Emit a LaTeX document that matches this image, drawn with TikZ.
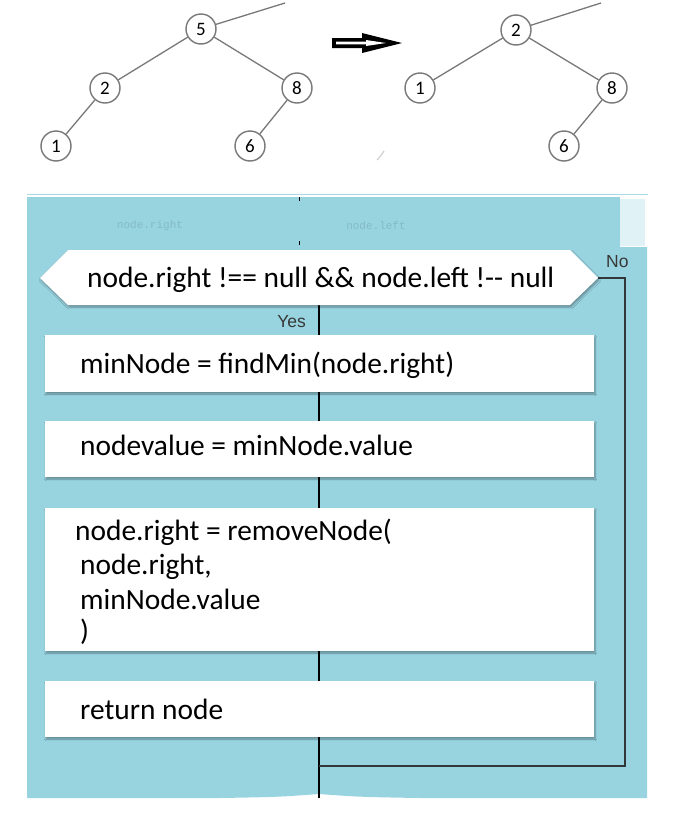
\documentclass[tikz,border=0pt]{standalone}
\usepackage{fontspec}
\setmainfont{Carlito}
\newfontfamily\labelfont{Liberation Sans}
\newfontfamily\ghostfont{Liberation Mono}
\usetikzlibrary{shadows.blur}
\definecolor{panelblue}{RGB}{152,211,224}
\definecolor{edgegray}{RGB}{120,120,120}
\definecolor{flowline}{RGB}{50,55,58}
\definecolor{ghost}{RGB}{132,186,200}
\tikzset{
  treenode/.style={circle, draw=edgegray, line width=1.4pt, fill=white,
    minimum size=30pt, inner sep=0pt, font=\fontsize{19}{21}\selectfont},
  treeedge/.style={draw=edgegray, line width=1.3pt},
  stepbox/.style={fill=white, blur shadow={shadow xshift=1pt, shadow yshift=-2pt,
    shadow blur steps=6, shadow opacity=35}},
  codetext/.style={anchor=base west, inner sep=0pt, font=\fontsize{29.4}{33}\selectfont},
  flowlabel/.style={inner sep=0pt, text=black!78, font=\labelfont\fontsize{17.5}{19}\selectfont},
  mainline/.style={line width=2.4pt, black},
  noline/.style={line width=2pt, flowline}
}
\begin{document}
\begin{tikzpicture}[x=1pt,y=-1pt]
\useasboundingbox (0,0) rectangle (679,825);

% ---- tree before removal ----
\node[treenode] (a5) at (201,29) {5};
\node[treenode] (a2) at (105,88) {2};
\node[treenode] (a8) at (297,88) {8};
\node[treenode] (a1) at (56,146) {1};
\node[treenode] (a6) at (250,146) {6};
\coordinate (aup) at (285,3);
\draw[treeedge] (a5) -- (aup);
\draw[treeedge] (a5) -- (a2);
\draw[treeedge] (a5) -- (a8);
\draw[treeedge] (a2) -- (a1);
\draw[treeedge] (a8) -- (a6);

% ---- transition arrow ----
\fill[black] (332,38) -- (362,38) -- (362,33) -- (402,43) -- (362,53) -- (362,48) -- (332,48) -- cycle;
\fill[white] (336,41.6) -- (366,41.6) -- (366,40) -- (386,43) -- (366,46) -- (366,44.4) -- (336,44.4) -- cycle;
\draw[edgegray!35, line width=1.2pt] (377,160) .. controls (380,157) .. (384,151);

% ---- tree after removal ----
\node[treenode] (b2) at (516,30) {2};
\node[treenode] (b1) at (420,88) {1};
\node[treenode] (b8) at (612,88) {8};
\node[treenode] (b6) at (564,146) {6};
\coordinate (bup) at (601,3);
\draw[treeedge] (b2) -- (bup);
\draw[treeedge] (b2) -- (b1);
\draw[treeedge] (b2) -- (b8);
\draw[treeedge] (b8) -- (b6);

% ---- flowchart panel ----
\draw[panelblue!85, line width=0.8pt] (27,194) -- (648,194);
\fill[panelblue] (27,197) rectangle (620,247);
\fill[panelblue!30] (620,199) rectangle (645,246);
\fill[panelblue] (27,247) -- (647,247) -- (647,798) -- (420,798)
  .. controls (360,797) .. (319,794) .. controls (278,797) .. (220,798) -- (27,798) -- cycle;

% faint header row
\node[inner sep=0pt, text=ghost, font=\ghostfont\fontsize{11}{12}\selectfont] (hdrA) at (150,226) {node.right};
\node[inner sep=0pt, text=ghost, font=\ghostfont\fontsize{11}{12}\selectfont] (hdrB) at (376,226) {node.left};
\draw[black, line width=1pt] (299,197) -- (299,201);
\draw[black, line width=1pt] (299,241) -- (299,245);

% decision
\coordinate (decL) at (40,278);
\coordinate (decR) at (598,278);
\coordinate (decB) at (319,305);
\coordinate (bottom) at (319,798);
\coordinate (noCorner) at (625,278);
\coordinate (noLow) at (625,766);
\coordinate (join) at (319,766);

\draw[mainline] (decB) -- (bottom);
\draw[noline] (decR) -- (noCorner) -- (noLow) -- (join);

\path[stepbox] (40,278) -- (68,250) -- (570,250) -- (598,278) -- (570,305) -- (68,305) -- cycle;
\node[codetext] (cond) at (87,287) {node.right !== null \&\& node.left !-{}- null};

\node[flowlabel, anchor=base east] (yes) at (306,327) {Yes};
\node[flowlabel, anchor=base west] (no) at (606,267) {No};

% steps
\path[stepbox] (45,335) rectangle (594,392);
\node[codetext] (s1) at (80,373) {minNode = findMin(node.right)};

\path[stepbox] (45,421) rectangle (594,477);
\node[codetext] (s2) at (80,455) {nodevalue = minNode.value};

\path[stepbox] (45,508) rectangle (594,651);
\node[codetext] (s3a) at (75,540) {node.right = removeNode(};
\node[codetext] (s3b) at (80,574) {node.right,};
\node[codetext] (s3c) at (80,609) {minNode.value};
\node[codetext] (s3d) at (80,640) {)};

\path[stepbox] (45,681) rectangle (594,737);
\node[codetext] (s4) at (80,719) {return node};
\end{tikzpicture}
\end{document}
